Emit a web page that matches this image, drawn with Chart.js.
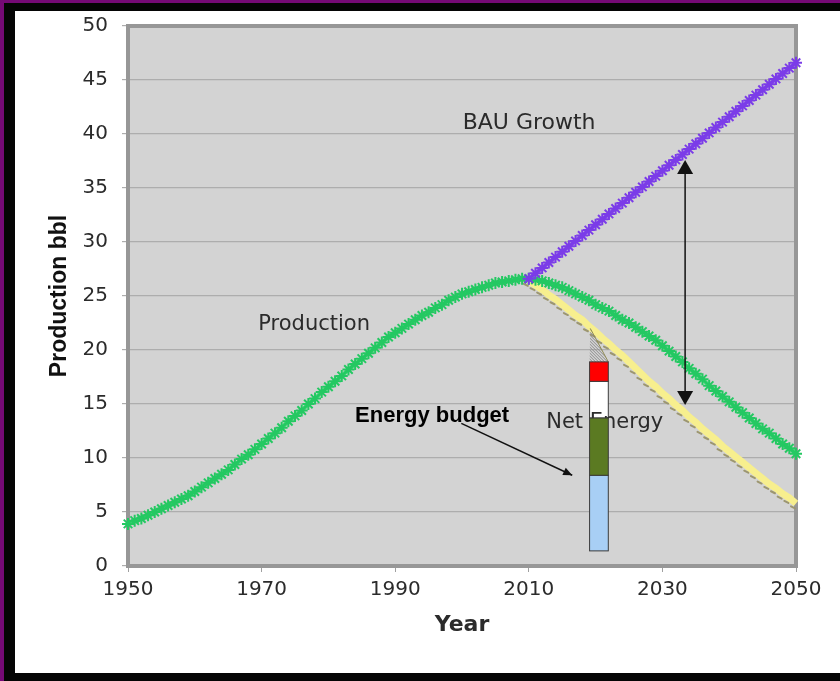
<!DOCTYPE html>
<html>
<head>
<meta charset="utf-8">
<script src="https://cdn.jsdelivr.net/npm/chart.js@4/dist/chart.umd.min.js"></script>
<style>
  html, body { margin: 0; padding: 0; }
  #frame { position: absolute; left: 0; top: 0; width: 840px; height: 681px; background: #760a76; }
  #black { position: absolute; left: 4px; top: 3px; right: 0; bottom: 0; background: #050505; }
  #white { position: absolute; left: 15px; top: 11px; right: 0; bottom: 8px; background: #fff; }
  #myChart { position: absolute; left: 0; top: 0; }
</style>
</head>
<body>
<div id="frame"><div id="black"></div><div id="white"></div></div>
<canvas id="myChart" width="840" height="681"></canvas>
<script>
// yearly values
const years = Array.from({ length: 101 }, (_, i) => 1950 + i);
const futureYears = Array.from({ length: 41 }, (_, i) => 2010 + i);

const production = [
  3.9, 4.2, 4.4, 4.7, 5.0, 5.3, 5.6, 5.9, 6.2, 6.5,
  6.9, 7.3, 7.7, 8.1, 8.5, 8.9, 9.4, 9.9, 10.3, 10.8,
  11.3, 11.8, 12.3, 12.8, 13.4, 13.9, 14.4, 15.0, 15.5, 16.1,
  16.6, 17.1, 17.6, 18.2, 18.7, 19.2, 19.7, 20.2, 20.7, 21.2,
  21.6, 22.0, 22.4, 22.8, 23.2, 23.5, 23.9, 24.2, 24.6, 24.9,
  25.2, 25.4, 25.6, 25.8, 26.0, 26.2, 26.3, 26.4, 26.5, 26.6,
  26.6, 26.5, 26.4, 26.2, 26.0, 25.8, 25.5, 25.2, 24.9, 24.6,
  24.2, 23.9, 23.6, 23.2, 22.8, 22.5, 22.1, 21.7, 21.3, 20.9,
  20.4, 19.9, 19.4, 18.9, 18.3, 17.8, 17.3, 16.7, 16.2, 15.7,
  15.2, 14.7, 14.2, 13.7, 13.2, 12.7, 12.3, 11.8, 11.3, 10.9,
  10.4
];

const bauGrowth = [
  26.6, 27.1, 27.6, 28.1, 28.6, 29.1, 29.6, 30.1, 30.6, 31.1,
  31.6, 32.1, 32.6, 33.1, 33.6, 34.1, 34.6, 35.1, 35.6, 36.1,
  36.6, 37.1, 37.6, 38.1, 38.6, 39.1, 39.6, 40.1, 40.6, 41.1,
  41.6, 42.1, 42.6, 43.1, 43.6, 44.1, 44.6, 45.1, 45.6, 46.1,
  46.6
];

const netEnergy = [
  26.4, 26.0, 25.6, 25.1, 24.7, 24.2, 23.7, 23.2, 22.8, 22.2,
  21.7, 21.1, 20.6, 20.0, 19.5, 18.9, 18.3, 17.7, 17.1, 16.6,
  16.0, 15.5, 14.9, 14.4, 13.8, 13.3, 12.7, 12.2, 11.7, 11.1,
  10.6, 10.1, 9.6, 9.1, 8.6, 8.1, 7.6, 7.2, 6.7, 6.3,
  5.8
];

const xTicks = [1950, 1970, 1990, 2010, 2030, 2050];
const yTicks = [0, 5, 10, 15, 20, 25, 30, 35, 40, 45, 50];

// energy budget bar: band edges (bottom to top) and its year span
const budgetLevels = [1.4, 8.4, 13.7, 17.1, 18.9];
const budgetYears = [2019.1, 2021.9];

function arrowHead(ctx, x1, y1, x2, y2, len, w) {
  const a = Math.atan2(y2 - y1, x2 - x1);
  const bx = x2 - len * Math.cos(a), by = y2 - len * Math.sin(a);
  ctx.beginPath();
  ctx.moveTo(x2, y2);
  ctx.lineTo(bx + w * Math.sin(a), by - w * Math.cos(a));
  ctx.lineTo(bx - w * Math.sin(a), by + w * Math.cos(a));
  ctx.closePath();
  ctx.fill();
}

const decor = {
  id: 'decor',
  beforeDraw(chart) {
    const { ctx, chartArea: a } = chart;
    ctx.save();
    ctx.fillStyle = '#d3d3d3';
    ctx.fillRect(a.left, a.top, a.right - a.left, a.bottom - a.top);
    ctx.restore();
  },
  beforeDatasetsDraw(chart) {
    const { ctx, chartArea: a } = chart;
    ctx.save();
    ctx.strokeStyle = '#979797';
    ctx.lineWidth = 4;
    ctx.strokeRect(a.left, a.top, a.right - a.left, a.bottom - a.top);
    ctx.restore();
  },
  afterDatasetDraw(chart, args) {
    if (args.index !== 2) return;
    const { ctx } = chart;
    ctx.save();
    ctx.strokeStyle = '#9c9670';
    ctx.lineWidth = 2;
    ctx.lineCap = 'round';
    args.meta.data.forEach(p => {
      ctx.beginPath();
      ctx.moveTo(p.x - 5, p.y + 3);
      ctx.lineTo(p.x - 1, p.y + 5);
      ctx.stroke();
    });
    ctx.restore();
  },
  afterDatasetsDraw(chart) {
    const { ctx } = chart;
    const X = v => chart.scales.x.getPixelForValue(v);
    const Y = v => chart.scales.y.getPixelForValue(v);
    ctx.save();
    ctx.textBaseline = 'middle';
    ctx.textAlign = 'left';

    ctx.fillStyle = '#2b2b2b';
    ctx.font = '22px "DejaVu Sans"';
    ctx.fillText('BAU Growth', X(2000.1), Y(41.0));
    ctx.font = '21px "DejaVu Sans"';
    ctx.fillText('Production', X(1969.5), Y(22.4));
    ctx.fillStyle = '#000';
    ctx.font = 'bold 22px "Liberation Sans"';
    ctx.fillText('Energy budget', X(1984.0), Y(13.9));

    // energy budget bar
    const bl = X(budgetYears[0]), br = X(budgetYears[1]);
    const top = Y(budgetLevels[4]);
    ctx.save();
    ctx.beginPath();
    ctx.moveTo(X(2019.2), Y(22.0));
    ctx.lineTo(bl, top);
    ctx.lineTo(br, top);
    ctx.closePath();
    ctx.clip();
    ctx.strokeStyle = '#8a8a8a';
    ctx.lineWidth = 1;
    for (let k = -40; k < 40; k += 3) {
      ctx.beginPath();
      ctx.moveTo(bl + k, top - 40);
      ctx.lineTo(bl + k + 40, top);
      ctx.stroke();
    }
    ctx.restore();
    ctx.strokeStyle = '#8f8a55';
    ctx.lineWidth = 1;
    ctx.beginPath();
    ctx.moveTo(X(2019.2), Y(22.0));
    ctx.lineTo(br, top);
    ctx.stroke();

    const bandColors = ['#a8cff5', '#5b7a22', '#ffffff', '#ff0000'];
    const band = i => {
      const y0 = Y(budgetLevels[i]), y1 = Y(budgetLevels[i + 1]);
      ctx.fillStyle = bandColors[i];
      ctx.fillRect(bl, y1, br - bl, y0 - y1);
      ctx.strokeStyle = '#3a3a3a';
      ctx.strokeRect(bl, y1, br - bl, y0 - y1);
    };
    band(2);
    // label sits over the white band but under the coloured ones
    ctx.fillStyle = '#2b2b2b';
    ctx.font = '21px "DejaVu Sans"';
    ctx.fillText('Net Energy', X(2012.6), Y(13.3));
    band(0);
    band(1);
    band(3);

    // arrow from the "Energy budget" label
    ctx.strokeStyle = '#111';
    ctx.fillStyle = '#111';
    ctx.lineWidth = 1.5;
    const ax1 = X(1999.9), ay1 = Y(13.2), ax2 = X(2016.5), ay2 = Y(8.4);
    ctx.beginPath();
    ctx.moveTo(ax1, ay1);
    ctx.lineTo(ax2, ay2);
    ctx.stroke();
    arrowHead(ctx, ax1, ay1, ax2, ay2, 9, 4);

    // double arrow between BAU growth and net energy
    const dx = X(2033.4), dTop = Y(37.6), dBot = Y(14.9);
    ctx.beginPath();
    ctx.moveTo(dx, dTop + 10);
    ctx.lineTo(dx, dBot - 10);
    ctx.stroke();
    arrowHead(ctx, dx, dBot, dx, dTop, 14, 8);
    arrowHead(ctx, dx, dTop, dx, dBot, 14, 8);
    ctx.restore();
  }
};

const tickFont = { family: 'DejaVu Sans', size: 20 };

const data = {
  datasets: [
    {
      label: 'BAU Growth',
      data: futureYears.map((x, i) => ({ x: x, y: bauGrowth[i] })),
      borderColor: '#8a4ef0',
      borderWidth: 4,
      pointStyle: 'star',
      pointRadius: 6,
      pointBorderWidth: 2,
      pointBorderColor: '#7b3ce8',
      pointBackgroundColor: '#7b3ce8',
      clip: false,
    },
    {
      label: 'Production',
      data: years.map((x, i) => ({ x: x, y: production[i] })),
      borderColor: '#3ddc74',
      borderWidth: 4,
      pointStyle: 'star',
      pointRadius: 6,
      pointBorderWidth: 2,
      pointBorderColor: '#24c862',
      pointBackgroundColor: '#24c862',
      clip: false,
    },
    {
      label: 'Net Energy',
      data: futureYears.map((x, i) => ({ x: x, y: netEnergy[i] })),
      borderColor: '#f7ef8e',
      borderWidth: 7,
      pointRadius: 0,
      clip: false,
    },
  ],
};

const config = {
  type: 'line',
  data: data,
  options: {
    responsive: false,
    animation: false,
    layout: { padding: { left: 20, top: 25, right: 44, bottom: 20 } },
    plugins: {
      legend: { display: false },
      tooltip: { enabled: false },
    },
    scales: {
      x: {
        type: 'linear',
        min: 1950,
        max: 2050,
        afterBuildTicks: s => { s.ticks = xTicks.map(v => ({ value: v })); },
        afterFit: s => { s.height = 95; },
        ticks: { font: tickFont, color: '#2b2b2b', padding: 6, maxRotation: 0, callback: v => String(v) },
        grid: { drawOnChartArea: false, tickLength: 6, color: '#a0a0a0' },
        border: { display: false },
        title: {
          display: true,
          text: 'Year',
          color: '#2b2b2b',
          font: { family: 'DejaVu Sans', size: 22, weight: 'bold' },
          padding: { top: 0, bottom: 23 },
        },
      },
      y: {
        min: 0,
        max: 50,
        afterBuildTicks: s => { s.ticks = yTicks.map(v => ({ value: v })); },
        afterFit: s => { s.width = 108; },
        ticks: { font: tickFont, color: '#2b2b2b', padding: 14 },
        grid: { color: '#adadad', lineWidth: 1.2, tickLength: 6 },
        border: { display: false },
        title: {
          display: true,
          text: 'Production bbl',
          color: '#111',
          font: { family: 'Liberation Sans', size: 23, weight: 'bold' },
          padding: { top: 26, bottom: 0 },
        },
      },
    },
  },
  plugins: [decor],
};

const myChart = new Chart(document.getElementById('myChart'), config);
</script>
</body>
</html>
